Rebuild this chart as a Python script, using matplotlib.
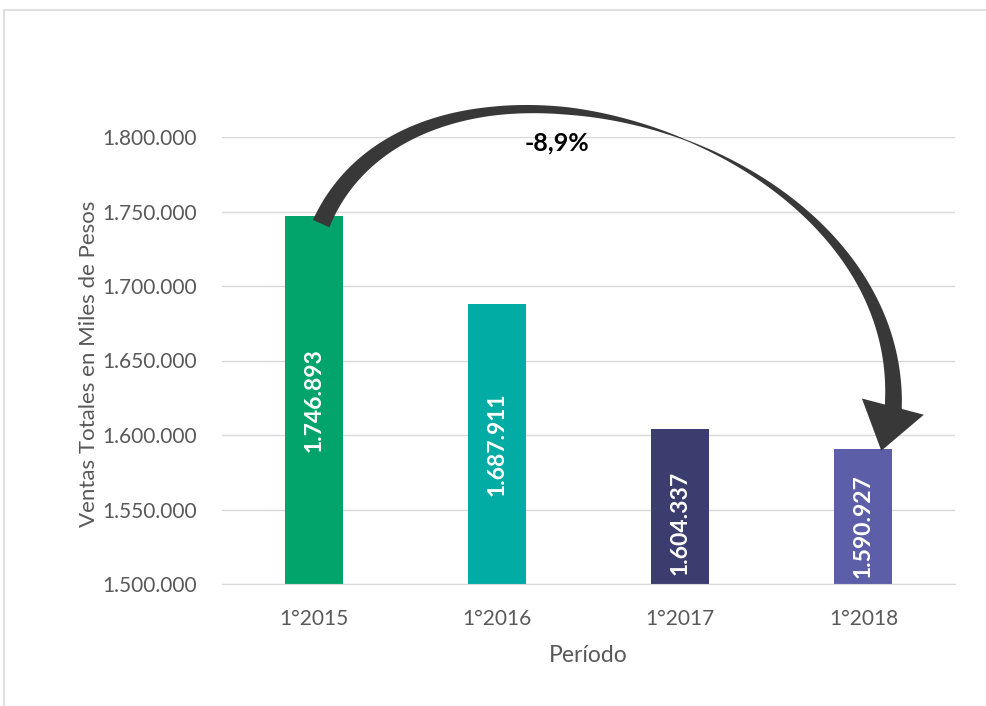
import numpy as np
import matplotlib
matplotlib.use('Agg')
import matplotlib.pyplot as plt
from matplotlib.patches import Polygon, Rectangle
from matplotlib.ticker import FuncFormatter

# Data
periodos = ['1°2015', '1°2016', '1°2017', '1°2018']
ventas = [1746893, 1687911, 1604337, 1590927]
colores = ['#03A46B', '#00ACA4', '#3C3D6F', '#5C5FA8']
etiquetas = ['1.746.893', '1.687.911', '1.604.337', '1.590.927']
variacion = '-8,9%'

plt.rcParams['font.family'] = ['Lato', 'DejaVu Sans']
gris = '#595959'

fig = plt.figure(figsize=(9.87, 7.06), dpi=100)
ax = fig.add_axes([222 / 987, 1 - 584 / 706, 733 / 987, 447 / 706])

x = np.arange(len(periodos))
ax.bar(x, ventas, width=0.317, color=colores, zorder=2)
ax.set_xlim(-0.5, 3.5)
ax.set_ylim(1500000, 1800000)
ax.set_yticks(np.arange(1500000, 1800001, 50000))
ax.yaxis.set_major_formatter(FuncFormatter(lambda v, p: f'{v:,.0f}'.replace(',', '.')))
ax.set_xticks(x)
ax.set_xticklabels(periodos)

ax.grid(axis='y', color='#D9D9D9', lw=1.0, zorder=0)
for s in ['top', 'right', 'left']:
    ax.spines[s].set_visible(False)
ax.spines['bottom'].set_color('#D9D9D9')
ax.tick_params(length=0, labelsize=15, colors=gris)
ax.tick_params(axis='y', pad=18)
ax.tick_params(axis='x', pad=18)

ax.set_ylabel('Ventas Totales en Miles de Pesos', fontsize=16, color=gris)
ax.yaxis.set_label_coords(-0.168, 0.492)
ax.set_xlabel('Período', fontsize=16.5, color=gris)
ax.xaxis.set_label_coords(0.5, -0.136)

# value labels inside the bars (Excel pushes the short bars' labels down)
label_y = [(1500000 + ventas[0]) / 2, (1500000 + ventas[1]) / 2, 1541300, 1538900]
for i, txt in enumerate(etiquetas):
    ax.text(x[i], label_y[i], txt, rotation=90, ha='center', va='center',
            color='white', fontsize=16.5, fontweight='bold', zorder=3)

# curved arrow from the first bar to the last one, drawn in pixel space
p0 = (0.041, ventas[0] - 5000)
p1 = (0.5765, 1892890)
p2 = (3.202, 1804700)
p3 = (3.164, 1621480)
tip = (3.098, ventas[3] - 1500)
base = (3.161, 1619050)

tr = ax.transData
P = tr.transform([p0, p1, p2, p3])
t = np.linspace(0, 1, 200)[:, None]
curve = ((1 - t) ** 3 * P[0] + 3 * (1 - t) ** 2 * t * P[1]
         + 3 * (1 - t) * t ** 2 * P[2] + t ** 3 * P[3])
deriv = (3 * (1 - t) ** 2 * (P[1] - P[0]) + 6 * (1 - t) * t * (P[2] - P[1])
         + 3 * t ** 2 * (P[3] - P[2]))
deriv /= np.linalg.norm(deriv, axis=1)[:, None]
normal = np.column_stack([-deriv[:, 1], deriv[:, 0]])
w = np.interp(t[:, 0], [0, 0.3, 0.4, 0.55, 0.7, 0.85, 1], [18, 9, 7.5, 1, 6, 11, 17])
left = curve + normal * w[:, None] / 2
right = curve - normal * w[:, None] / 2
# push the shaft end a bit under the head
ext = deriv[-1] * 8
left[-1] += ext
right[-1] += ext
body = np.vstack([left, right[::-1]])
arrow_col = '#383838'
ax.add_patch(Polygon(tr.inverted().transform(body), closed=True, color=arrow_col,
                     clip_on=False, zorder=4, lw=0))

T, B = tr.transform([tip, base])
u = (T - B) / np.linalg.norm(T - B)
n = np.array([-u[1], u[0]])
head = np.array([B + n * 32, T, B - n * 32])
ax.add_patch(Polygon(tr.inverted().transform(head), closed=True, color=arrow_col,
                     clip_on=False, zorder=4, lw=0))

ax.text(1.33, 1796000, variacion, ha='center', va='center', fontsize=18,
        fontweight='bold', color='black', zorder=5)

# chart area frame
fig.add_artist(Rectangle((4 / 987, -0.05), 1.2, 1 - 10 / 706 + 0.05, transform=fig.transFigure,
                         fill=False, edgecolor='#D9D9D9', lw=1.2))

fig.savefig('out.png', dpi=100)
